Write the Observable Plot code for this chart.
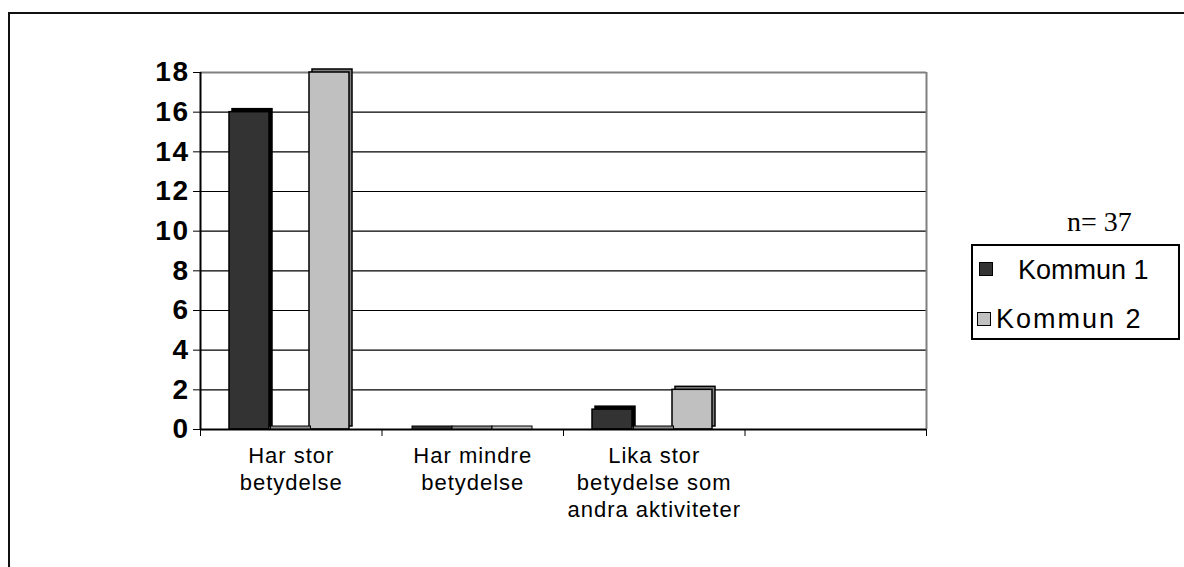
<!DOCTYPE html>
<html>
<head>
<meta charset="utf-8">
<script src="https://cdn.jsdelivr.net/npm/d3@7"></script>
<script src="https://cdn.jsdelivr.net/npm/@observablehq/plot@0.6"></script>
<style>
  html, body { margin: 0; padding: 0; background: #fff; }
  #wrap { position: relative; width: 1184px; height: 567px; overflow: hidden; font-family: "Liberation Sans", Arial, sans-serif; }
  #frame { position: absolute; left: 8px; top: 12px; width: 1300px; height: 700px; border-left: 2px solid #111; border-top: 2px solid #111; }
  #chart { position: absolute; left: 0; top: 0; }
  #chart svg [aria-label="y-axis tick label"] text { font-family: "Liberation Sans", Arial, sans-serif; font-size: 28px; font-weight: bold; letter-spacing: 1.5px; }
  #n { position: absolute; left: 1067px; top: 207px; font-family: "Liberation Serif", "Times New Roman", serif; font-size: 28px; line-height: 30px; white-space: nowrap; }
  #legend { position: absolute; left: 971px; top: 244px; width: 209px; height: 96px; box-sizing: border-box; border: 2px solid #000; background: #fff; }
  .key { position: absolute; width: 12px; height: 12px; border: 1.5px solid #000; }
  .lab { position: absolute; font-size: 27px; line-height: 30px; white-space: nowrap; color: #000; }
</style>
</head>
<body>
<div id="wrap">
  <div id="frame"></div>
  <div id="chart"></div>
  <div id="n">n= 37</div>
  <div id="legend"></div>
</div>
<script>
// ---- data ----
const categories = ["Har stor\nbetydelse", "Har mindre\nbetydelse", "Lika stor\nbetydelse som\nandra aktiviteter", ""];
const seriesNames = ["Kommun 1", "", "Kommun 2"];
const kommun1 = [16, 0, 1, null];
const hiddenSeries = [0, 0, 0, null];
const kommun2 = [18, 0, 2, null];
const yTicks = [0, 2, 4, 6, 8, 10, 12, 14, 16, 18];
const legendLabels = ["Kommun 1", "Kommun 2"];
const nLabel = "n= 37";

// ---- styles ----
const frontFill = ["#333333", "#8c8c8c", "#c0c0c0"];
const sideFill = ["#000000", "#555555", "#808080"];
const barW = 40 / 181.5;      // fraction of a category band
const barOffset = 29 / 181.5; // left gap inside a band

// build table
const seriesValues = [kommun1, hiddenSeries, kommun2];
const bars = [];
categories.forEach((c, ci) => {
  seriesValues.forEach((vals, si) => {
    const v = vals[ci];
    if (v == null) return;
    const x1 = ci + barOffset + si * barW;
    bars.push({cat: c, series: si, value: v, x1, x2: x1 + barW});
  });
});
const posBars = bars.filter(d => d.value > 0);
const zeroBars = bars.filter(d => d.value === 0);
const catTable = categories.map((c, i) => ({label: c, pos: i + 0.5}));

const chart = Plot.plot({
  width: 1184,
  height: 567,
  marginLeft: 200,
  marginRight: 258,
  marginTop: 72,
  marginBottom: 138,
  style: {background: "transparent", color: "#000", fontFamily: "Liberation Sans, Arial, sans-serif", overflow: "visible"},
  x: {domain: [0, categories.length], ticks: d3.range(0, categories.length + 1), tickSize: 7, tickFormat: () => "", label: null},
  y: {domain: [0, 18], ticks: yTicks, tickSize: 7, tickPadding: 4, label: null},
  marks: [
    Plot.ruleY(yTicks.filter(d => d > 0 && d < 18), {x1: 0, x2: categories.length, stroke: "#000", strokeWidth: 1.2}),
    Plot.ruleY([18], {x1: 0, x2: categories.length, stroke: "#808080", strokeWidth: 2}),
    Plot.ruleX([categories.length], {y1: 0, y2: 18, stroke: "#808080", strokeWidth: 2}),
    Plot.ruleX([0], {y1: 0, y2: 18, stroke: "#000", strokeWidth: 2}),
    // 3D depth (side / top) of non-zero bars
    Plot.rect(posBars, {x1: "x1", x2: "x2", y1: 0, y2: "value", dx: 3, dy: -3, fill: d => sideFill[d.series], stroke: "#000", strokeWidth: 1.5}),
    // front face
    Plot.rect(posBars, {x1: "x1", x2: "x2", y1: 0, y2: "value", fill: d => frontFill[d.series], stroke: "#000", strokeWidth: 1.5}),
    Plot.ruleY([0], {x1: 0, x2: categories.length, stroke: "#000", strokeWidth: 2}),
    // zero-valued bars: only the thin top face of the 3D block shows
    Plot.rect(zeroBars, {x1: "x1", x2: "x2", y1: 0, y2: "value", insetTop: -3, dx: 1.5, fill: d => frontFill[d.series], stroke: "#000", strokeWidth: 1}),
    Plot.text(catTable, {x: "pos", y: () => 0, text: "label", lineAnchor: "top", dy: 14, fontSize: 22, lineHeight: 1.24, fill: "#000"})
  ]
});
document.getElementById("chart").appendChild(chart);
// letter spacing for category labels
chart.querySelectorAll('[aria-label="text"] text').forEach(t => t.setAttribute("letter-spacing", "1"));

// legend
document.getElementById("n").textContent = nLabel;
const lg = document.getElementById("legend");
const legendFill = [frontFill[0], frontFill[2]];
const keyPos = [{x: 6, y: 16}, {x: 4, y: 66}];
const labPos = [{x: 45, y: 9}, {x: 23, y: 58}];
const labSpacing = ["0px", "2px"];
legendLabels.forEach((name, i) => {
  const k = document.createElement("div");
  k.className = "key";
  k.style.left = keyPos[i].x + "px";
  k.style.top = keyPos[i].y + "px";
  k.style.background = legendFill[i];
  lg.appendChild(k);
  const l = document.createElement("div");
  l.className = "lab";
  l.style.left = labPos[i].x + "px";
  l.style.top = labPos[i].y + "px";
  l.style.letterSpacing = labSpacing[i];
  l.textContent = name;
  lg.appendChild(l);
});
</script>
</body>
</html>
